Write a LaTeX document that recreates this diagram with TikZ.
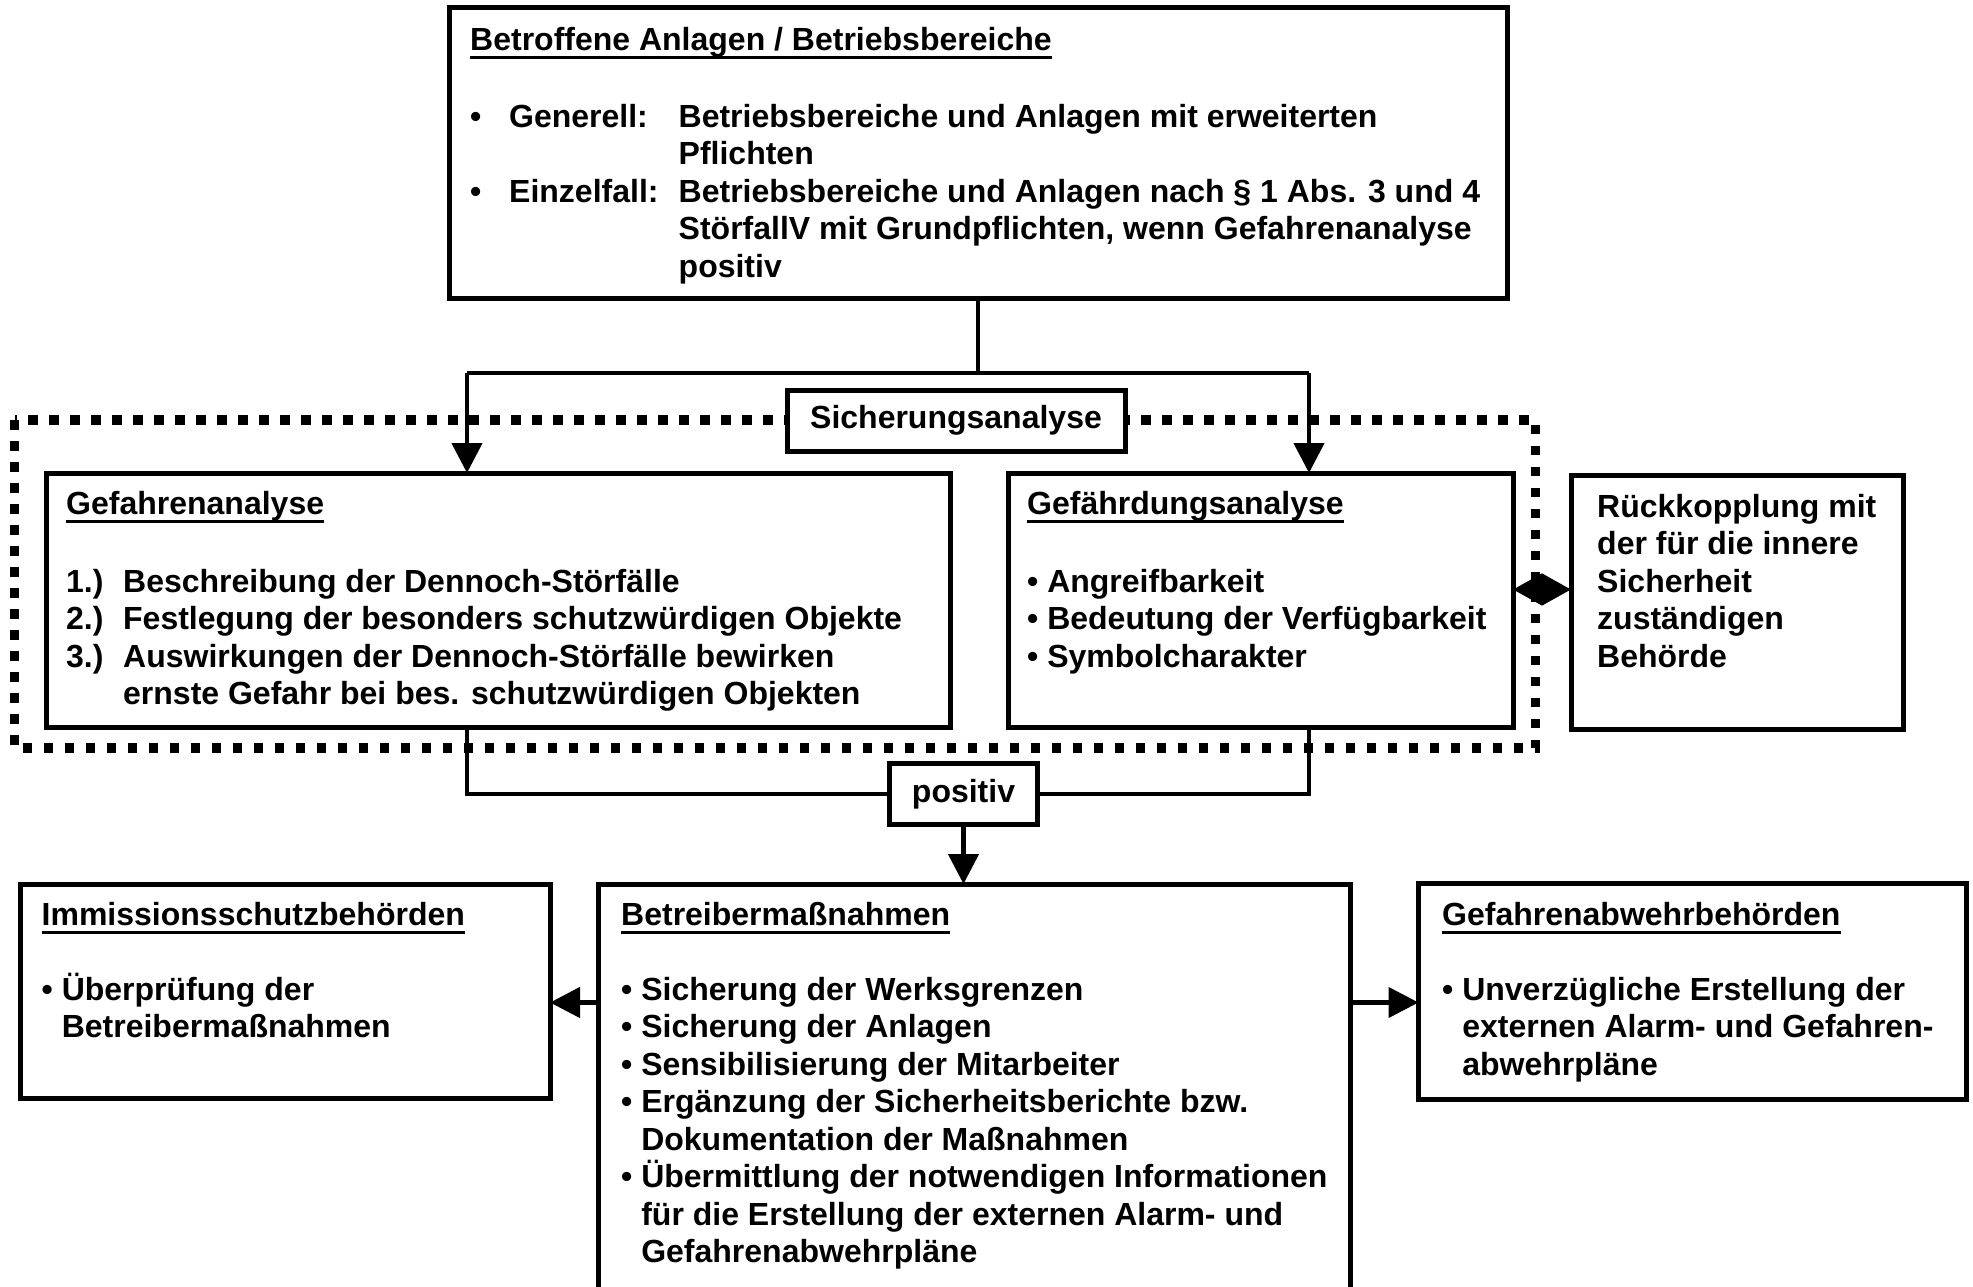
\documentclass[tikz,border=0pt]{standalone}
\usepackage{fontspec}
\setmainfont{Liberation Sans}
\usepackage{tikz}
\usetikzlibrary{fit,positioning}
\usetikzlibrary{calc,arrows.meta}

\newcommand\ulinie[1]{\setbox0\hbox{#1}\rlap{\rule[-8.5pt]{\wd0}{3pt}}\box0}
\newcommand\einr{\phantom{•\ }}

\tikzset{
  kasten/.style={draw, line width=5pt, fill=white, inner sep=0pt, outer sep=0pt, anchor=north west},
  inhalt/.style={anchor=north west, inner sep=0pt, align=left},
  linie/.style={line width=4.5pt},
  pfeil/.style={line width=4.5pt, -{Triangle[length=30pt,width=30pt]}},
  raute/.style={line width=4.5pt, {Triangle[length=29pt,width=31pt]}-{Triangle[length=29pt,width=31pt]}},
  punktrahmen/.style={line width=9.5pt, dash pattern=on 9.5pt off 11.5pt},
}

\begin{document}
\begin{tikzpicture}[x=1pt,y=1pt,yscale=-1,xscale=1,font=\fontsize{32}{37.5}\selectfont\bfseries]
\useasboundingbox (0,0) rectangle (1973,1287);

%Shape: dotted frame
\draw[punktrahmen] (14.5,420) rectangle (1535.5,748);

%Shape: Rectangle
\node[kasten, minimum width=1058pt, minimum height=290pt] (oben) at (449,8) {};
%Shape: Rectangle
\node[kasten, minimum width=338pt, minimum height=61pt] (sicherung) at (787,390) {Sicherungsanalyse};
%Shape: Rectangle
\node[kasten, minimum width=904pt, minimum height=254pt] (gefahr) at (46,473) {};
%Shape: Rectangle
\node[kasten, minimum width=505pt, minimum height=254pt] (gefaehrdung) at (1008,473) {};
%Shape: Rectangle
\node[kasten, minimum width=332pt, minimum height=254pt] (rueck) at (1571,475) {};
%Shape: Rectangle
\node[kasten, minimum width=148pt, minimum height=61pt] (positiv) at (889.5,763.5) {positiv};
%Shape: Rectangle
\node[kasten, minimum width=530pt, minimum height=214pt] (immission) at (20,884) {};
%Shape: Rectangle
\node[kasten, minimum width=752pt, minimum height=440pt] (betreiber) at (598.5,884) {};
%Shape: Rectangle
\node[kasten, minimum width=547.5pt, minimum height=216pt] (abwehr) at (1418.5,883) {};

%Straight Lines
\coordinate (links) at (467,373);
\coordinate (rechts) at (1309,373);
\coordinate (pfeilhoehe) at (0,1002.5);
\coordinate (rautenhoehe) at (0,589.5);
\draw[linie] (oben.south) -- (oben.south |- links);
\draw[linie] (links) -- (rechts);
\draw[pfeil] (links) -- (links |- gefahr.north);
\draw[pfeil] (rechts) -- (rechts |- gefaehrdung.north);
\draw[linie] (links |- gefahr.south) |- (positiv.west);
\draw[linie] (rechts |- gefaehrdung.south) |- (positiv.east);
\draw[pfeil] (positiv.south) -- (positiv.south |- betreiber.north);
\draw[pfeil] (betreiber.west |- pfeilhoehe) -- (immission.east |- pfeilhoehe);
\draw[pfeil] (betreiber.east |- pfeilhoehe) -- (abwehr.west |- pfeilhoehe);
\draw[raute] (gefaehrdung.east |- rautenhoehe) -- (rueck.west |- rautenhoehe);

% Text Node
\node[inhalt] (obentext) at (470,26.7) {\ulinie{Betroffene Anlagen / Betriebsbereiche}\\[39.5pt]
\makebox[39pt][l]{•}\makebox[169.5pt][l]{Generell:}Betriebsbereiche und Anlagen mit erweiterten\\
\hspace*{208.5pt}Pflichten\\
\makebox[39pt][l]{•}\makebox[169.5pt][l]{Einzelfall:}Betriebsbereiche und Anlagen nach § 1 Abs. 3 und 4\\
\hspace*{208.5pt}StörfallV mit Grundpflichten, wenn Gefahrenanalyse\\
\hspace*{208.5pt}positiv};
% Text Node
\node[inhalt] (gefahrtext) at (66,490.7) {\ulinie{Gefahrenanalyse}\\[40.5pt]
\makebox[57pt][l]{1.)}Beschreibung der Dennoch-Störfälle\\
\makebox[57pt][l]{2.)}Festlegung der besonders schutzwürdigen Objekte\\
\makebox[57pt][l]{3.)}Auswirkungen der Dennoch-Störfälle bewirken\\
\hspace*{57pt}ernste Gefahr bei bes. schutzwürdigen Objekten};
% Text Node
\node[inhalt] (gefaehrdungtext) at (1027,490.7) {\ulinie{Gefährdungsanalyse}\\[40.5pt]
• Angreifbarkeit\\
• Bedeutung der Verfügbarkeit\\
• Symbolcharakter};
% Text Node
\node[inhalt] (ruecktext) at (1597,493.7) {Rückkopplung mit\\der für die innere\\Sicherheit\\zuständigen\\Behörde};
% Text Node
\node[inhalt] (immissiontext) at (41.5,901.7) {\ulinie{Immissionsschutzbehörden}\\[37.5pt]
• Überprüfung der\\
\einr Betreibermaßnahmen};
% Text Node
\node[inhalt] (betreibertext) at (621,901.7) {\ulinie{Betreibermaßnahmen}\\[37.5pt]
• Sicherung der Werksgrenzen\\
• Sicherung der Anlagen\\
• Sensibilisierung der Mitarbeiter\\
• Ergänzung der Sicherheitsberichte bzw.\\
\einr Dokumentation der Maßnahmen\\
• Übermittlung der notwendigen Informationen\\
\einr für die Erstellung der externen Alarm- und\\
\einr Gefahrenabwehrpläne};
% Text Node
\node[inhalt] (abwehrtext) at (1442,901.7) {\ulinie{Gefahrenabwehrbehörden}\\[37.5pt]
• Unverzügliche Erstellung der\\
\einr externen Alarm- und Gefahren-\\
\einr abwehrpläne};

\end{tikzpicture}
\end{document}
